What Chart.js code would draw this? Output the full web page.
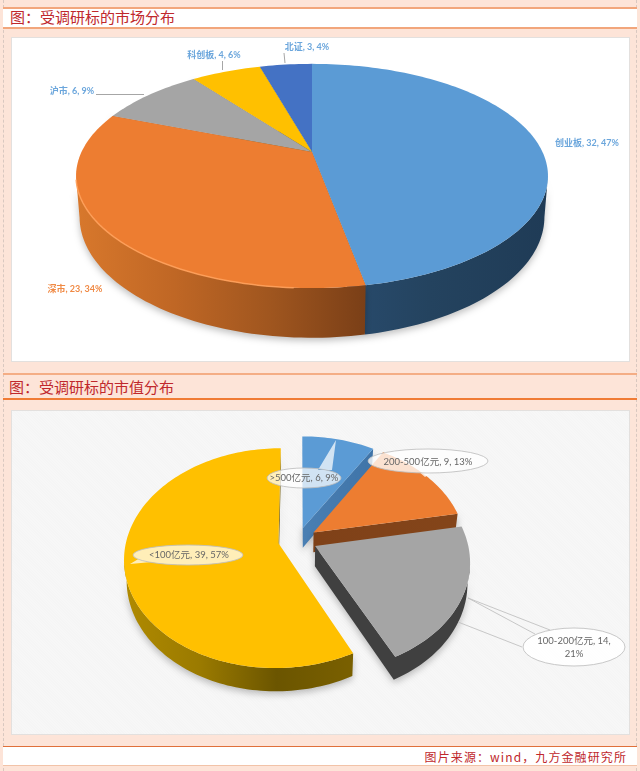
<!DOCTYPE html>
<html>
<head>
<meta charset="utf-8">
<title>受调研标的分布</title>
<script src="https://cdn.jsdelivr.net/npm/chart.js@4"></script>
<style>
  html, body { margin: 0; padding: 0; }
  body { width: 640px; height: 771px; position: relative; overflow: hidden; background: #fde4d8; font-family: "Noto Sans CJK SC", sans-serif; }
  .edge { position: absolute; top: 0; bottom: 0; width: 0; border-left: 1px dashed #d9c8c0; }
  .strip { position: absolute; left: 3px; right: 3px; box-sizing: border-box; color: #c0282c; }
  #title1 { top: 7px; height: 22px; background: #fff; border-top: 2px solid #f2a67c; border-bottom: 2px solid #f2a67c; font-size: 15px; line-height: 16px; padding-left: 7px; }
  #title2 { top: 373px; height: 27px; border-top: 2px solid #f4ad85; border-bottom: 2px solid #f07b35; font-size: 15px; line-height: 24px; padding-left: 6px; }
  #source { top: 746px; height: 20px; background: #fff; border-top: 1px solid #e0703a; border-bottom: 1px solid #f2c3a8; font-size: 12px; line-height: 19px; text-align: right; padding-right: 10px; letter-spacing: 1.1px; }
  .panel { position: absolute; left: 11px; width: 619px; height: 325px; box-sizing: border-box; border: 1px solid #e3e0de; }
  #panel1 { top: 37px; background: #fff; }
  #panel2 { top: 410px; background: repeating-linear-gradient(45deg, #f7f7f7 0 1px, #f5f5f5 1px 2px); }
  .panel canvas { position: absolute; left: -1px; top: -1px; }
</style>
</head>
<body>
<div class="edge" style="left:3px"></div>
<div class="edge" style="left:636px"></div>
<div class="strip" id="title1">图：受调研标的市场分布</div>
<div class="strip" id="title2">图：受调研标的市值分布</div>
<div class="panel" id="panel1"><canvas id="marketChart" width="619" height="325"></canvas></div>
<div class="panel" id="panel2"><canvas id="capChart" width="619" height="325"></canvas></div>
<div class="strip" id="source">图片来源：wind，九方金融研究所</div>

<script>
// data
const marketLabels = ['创业板', '深市', '沪市', '科创板', '北证'];
const marketValues = [32, 23, 6, 4, 3];
const capLabels = ['>500亿元', '200-500亿元', '100-200亿元', '<100亿元'];
const capValues = [6, 9, 14, 39];
const capExplode = [18, 19, 19, 20];

const marketColors = ['#5b9bd5', '#ed7d31', '#a5a5a5', '#ffc000', '#4472c4'];
const capColors = ['#5b9bd5', '#ed7d31', '#a5a5a5', '#ffc000'];

function labelText(labels, values, i) {
  const total = values.reduce((a, b) => a + b, 0);
  return labels[i] + ', ' + values[i] + ', ' + Math.round(values[i] / total * 100) + '%';
}

// draws the arcs of a pie as a tilted disc with a wall under it
const pie3d = {
  id: 'pie3d',
  beforeDatasetDraw(chart, args, o) {
    const ctx = chart.ctx;
    const project = (u, v, bottom) => {
      const w = 1 - o.k * v;
      const s = bottom ? o.shrink : 1;
      return {
        x: o.cx + o.rx * u / w * s,
        y: o.cy + o.ry * v / w + (bottom ? o.height / w : 0)
      };
    };
    const slices = args.meta.data.map((el, i) => {
      const mid = (el.startAngle + el.endAngle) / 2;
      const off = (el.options.offset || 0) / o.rx;
      const du = Math.cos(mid) * off, dv = Math.sin(mid) * off;
      const pts = [[du, dv]];
      const n = Math.max(6, Math.ceil((el.endAngle - el.startAngle) * 40));
      for (let j = 0; j <= n; j++) {
        const a = el.startAngle + (el.endAngle - el.startAngle) * j / n;
        pts.push([du + Math.cos(a), dv + Math.sin(a)]);
      }
      return { el, i, order: Math.sin(mid), pts };
    }).sort((a, b) => a.order - b.order);

    ctx.save();
    ctx.translate(-o.originX, -o.originY);
    slices.forEach(s => {
      const top = s.pts.map(p => project(p[0], p[1], false));
      const bot = s.pts.map(p => project(p[0], p[1], true));
      const xs = top.map(p => p.x);
      const x0 = Math.min(...xs), x1 = Math.max(...xs);
      const grad = ctx.createLinearGradient(x0, 0, x1, 0);
      o.walls[s.i].forEach((c, j, all) => grad.addColorStop(j / (all.length - 1), c));

      // wall faces pointing at the viewer
      ctx.beginPath();
      for (let j = 0; j < top.length; j++) {
        const q = (j + 1) % top.length;
        if (top[q].x < top[j].x) {
          ctx.moveTo(top[j].x, top[j].y);
          ctx.lineTo(top[q].x, top[q].y);
          ctx.lineTo(bot[q].x, bot[q].y);
          ctx.lineTo(bot[j].x, bot[j].y);
          ctx.closePath();
        }
      }
      ctx.save();
      ctx.shadowColor = 'rgba(0,0,0,0.25)';
      ctx.shadowBlur = 7;
      ctx.shadowOffsetY = 3;
      ctx.fillStyle = grad;
      ctx.fill();
      ctx.restore();

      ctx.beginPath();
      top.forEach((p, j) => j ? ctx.lineTo(p.x, p.y) : ctx.moveTo(p.x, p.y));
      ctx.closePath();
      ctx.fillStyle = s.el.options.backgroundColor;
      ctx.fill();

      if (o.rim && o.rim[s.i]) {
        // lit edge, from the left end of the arc to part way along the front
        ctx.beginPath();
        let started = false;
        top.slice(1).forEach((p, j, arr) => {
          if (j === arr.length - 1 || arr[j + 1].x >= p.x || p.x > o.rimEnd) return;
          started ? ctx.lineTo(p.x, p.y) : ctx.moveTo(p.x, p.y);
          started = true;
        });
        ctx.strokeStyle = o.rim[s.i];
        ctx.lineWidth = 1.5;
        ctx.stroke();
      }
    });
    ctx.restore();
    return false;
  },
  afterDraw(chart, args, o) {
    const ctx = chart.ctx;
    ctx.save();
    ctx.translate(-o.originX, -o.originY);
    (o.leaders || []).forEach(l => {
      ctx.beginPath();
      ctx.moveTo(l[0], l[1]);
      ctx.lineTo(l[2], l[3]);
      ctx.strokeStyle = '#a6a6a6';
      ctx.lineWidth = 1;
      ctx.stroke();
    });
    (o.callouts || []).forEach(c => {
      ctx.beginPath();
      ctx.ellipse(c.x, c.y, c.rx, c.ry, 0, 0, Math.PI * 2);
      if (c.tail) {
        ctx.moveTo(c.tail[0], c.tail[1]);
        ctx.lineTo(c.tail[2], c.tail[3]);
        ctx.lineTo(c.tail[4], c.tail[5]);
        ctx.closePath();
      }
      ctx.fillStyle = c.fill;
      ctx.fill('nonzero');
      ctx.strokeStyle = 'rgba(190,190,190,0.85)';
      ctx.lineWidth = 1;
      ctx.beginPath();
      ctx.ellipse(c.x, c.y, c.rx, c.ry, 0, 0, Math.PI * 2);
      ctx.stroke();
      (c.lines || []).forEach(l => {
        ctx.beginPath();
        ctx.moveTo(l[0], l[1]);
        ctx.lineTo(l[2], l[3]);
        ctx.stroke();
      });
    });
    ctx.textAlign = 'center';
    ctx.textBaseline = 'middle';
    o.texts.forEach(t => {
      ctx.font = o.font;
      ctx.fillStyle = t.color;
      t.text.split('\n').forEach((line, j) => ctx.fillText(line, t.x, t.y + j * 13));
    });
    ctx.restore();
  }
};

const baseOptions = {
  responsive: false,
  animation: false,
  events: [],
  plugins: { legend: { display: false }, tooltip: { enabled: false } }
};

new Chart(document.getElementById('marketChart'), {
  type: 'pie',
  plugins: [pie3d],
  data: {
    labels: marketLabels,
    datasets: [{ data: marketValues, backgroundColor: marketColors, borderWidth: 0 }]
  },
  options: {
    ...baseOptions,
    plugins: {
      ...baseOptions.plugins,
      pie3d: {
        originX: 11, originY: 37,
        cx: 312, cy: 152, rx: 230.5, ry: 107, k: 0.214, height: 39, shrink: 0.985,
        walls: [
          ['#2a4e72', '#24435f', '#1f3b56'],
          ['#d8782c', '#c06725', '#a0561f', '#7a3f17'],
          ['#5f5f5f', '#5f5f5f'],
          ['#8f7000', '#8f7000'],
          ['#2c4a80', '#2c4a80']
        ],
        rim: [null, 'rgba(255,160,90,0.9)', null, null, null],
        rimEnd: 300,
        font: 'bold 9px Lato, "Noto Sans CJK SC", sans-serif',
        leaders: [[96, 94.5, 144, 94.5], [222.5, 61, 222.5, 70], [284, 53, 285, 63]],
        texts: [
          { text: labelText(marketLabels, marketValues, 0), x: 587, y: 143, color: '#6ba6dc' },
          { text: labelText(marketLabels, marketValues, 1), x: 75, y: 289, color: '#f08a45' },
          { text: labelText(marketLabels, marketValues, 2), x: 72, y: 91, color: '#6ba6dc' },
          { text: labelText(marketLabels, marketValues, 3), x: 214, y: 55, color: '#6ba6dc' },
          { text: labelText(marketLabels, marketValues, 4), x: 307, y: 47, color: '#6ba6dc' }
        ]
      }
    }
  }
});

new Chart(document.getElementById('capChart'), {
  type: 'pie',
  plugins: [pie3d],
  data: {
    labels: capLabels,
    datasets: [{ data: capValues, backgroundColor: capColors, borderWidth: 0, offset: capExplode }]
  },
  options: {
    ...baseOptions,
    plugins: {
      ...baseOptions.plugins,
      pie3d: {
        originX: 11, originY: 410,
        cx: 298, cy: 540, rx: 152, ry: 107, k: 0.135, height: 20, shrink: 0.985,
        walls: [
          ['#4a7fb3', '#3f74a8'],
          ['#7f4118', '#84451a'],
          ['#404040', '#404040'],
          ['#b08a00', '#9a7a00', '#6b5500', '#7a6000']
        ],
        font: '9.5px Lato, "Noto Sans CJK SC", sans-serif',
        callouts: [
          { x: 304, y: 478, rx: 37, ry: 10, fill: 'rgba(255,255,255,0.72)', tail: [336, 440, 318, 470, 332, 470] },
          { x: 428, y: 461, rx: 60, ry: 12, fill: 'rgba(255,255,255,0.78)', tail: [425, 477, 418, 471, 434, 471] },
          { x: 188, y: 555, rx: 55, ry: 10, fill: 'rgba(255,255,255,0.72)', tail: [130, 564, 140, 558, 152, 562] },
          { x: 574, y: 647, rx: 51, ry: 19, fill: 'rgba(255,255,255,0.9)', lines: [[550, 630, 468, 598], [535, 634, 468, 598], [522, 647, 458, 622]] }
        ],
        texts: [
          { text: labelText(capLabels, capValues, 0), x: 304, y: 478, color: '#666' },
          { text: labelText(capLabels, capValues, 1), x: 428, y: 462, color: '#666' },
          { text: '100-200亿元, 14,\n21%', x: 574, y: 641, color: '#666' },
          { text: labelText(capLabels, capValues, 3), x: 189, y: 555, color: '#666' }
        ]
      }
    }
  }
});
</script>
</body>
</html>
